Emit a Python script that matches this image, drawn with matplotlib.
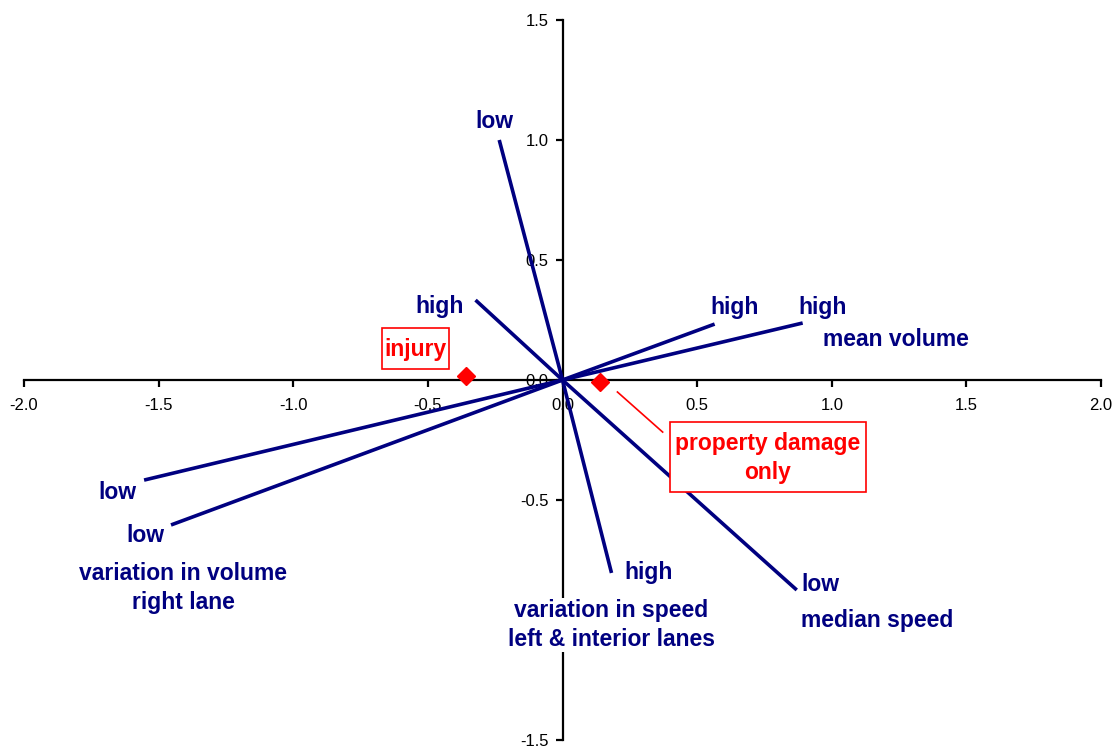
import matplotlib
matplotlib.use("Agg")
import matplotlib.pyplot as plt
from matplotlib.patches import Rectangle

plt.rcParams['font.family'] = ['Liberation Sans', 'DejaVu Sans']

# ---- data ----
variables = ["variation in speed\nleft & interior lanes", "mean volume",
             "variation in volume\nright lane", "median speed"]
low_x = [-0.235, -1.554, -1.454, 0.870]
low_y = [1.000, -0.417, -0.604, -0.875]
high_x = [0.182, 0.892, 0.565, -0.323]
high_y = [-0.804, 0.2375, 0.233, 0.333]

groups = ["injury", "property damage\nonly"]
group_x = [-0.357, 0.138]
group_y = [0.017, -0.008]

xticks = [-2.0, -1.5, -1.0, -0.5, 0.0, 0.5, 1.0, 1.5, 2.0]
yticks = [-1.5, -1.0, -0.5, 0.0, 0.5, 1.0, 1.5]

NAVY = '#000080'
RED = '#ff0000'
FS = 16.5

fig = plt.figure(figsize=(11.15, 7.46), dpi=100)
ax = fig.add_axes([24/1115, 1-740/746, (1101-24)/1115, 720/746])
ax.set_xlim(-2, 2)
ax.set_ylim(-1.5, 1.5)

for s in ['top', 'right']:
    ax.spines[s].set_visible(False)
for s in ['left', 'bottom']:
    ax.spines[s].set_position('zero')
    ax.spines[s].set_linewidth(1.6)
    ax.spines[s].set_zorder(1)

ax.set_xticks(xticks)
ax.set_yticks(yticks)
ax.set_xticklabels([f"{v:.1f}" for v in xticks])
ax.set_yticklabels([f"{v:.1f}" for v in yticks])
ax.tick_params(axis='x', direction='out', length=5, width=1.6, labelsize=12, pad=8)
ax.tick_params(axis='y', direction='out', length=5, width=1.6, labelsize=12, pad=5)

# variable lines
for lx, ly, hx, hy in zip(low_x, low_y, high_x, high_y):
    ax.plot([lx, 0, hx], [ly, 0, hy], color=NAVY, lw=2.6, zorder=3,
            solid_capstyle='butt')

# group points
ax.plot(group_x, group_y, linestyle='none', marker='D', ms=9.5,
        color=RED, zorder=4)

tk = dict(color=NAVY, fontsize=FS, fontweight='bold', ha='center', va='center',
          zorder=6)
bg = dict(facecolor='white', edgecolor='none', pad=1)
# endpoint labels
ax.text(-0.253, 1.075, "low", **tk)
ax.text(0.320, -0.804, "high", **tk)
ax.text(-0.457, 0.308, "high", **tk)
ax.text(0.959, -0.854, "low", **tk)
ax.text(0.639, 0.304, "high", **tk)
ax.text(-1.550, -0.650, "low", **tk)
ax.text(0.967, 0.304, "high", **tk)
ax.text(-1.654, -0.467, "low", **tk)
# variable names
ax.text(1.238, 0.167, variables[1], **tk)
ax.text(-1.409, -0.867, variables[2], linespacing=1.3, **tk)
ax.text(0.182, -1.021, variables[0], linespacing=1.3, bbox=bg, **tk)
ax.text(1.167, -1.0, variables[3], **tk)

# group labels with boxes
rk = dict(color=RED, fontsize=FS, fontweight='bold', ha='center', va='center', zorder=6)
ax.add_patch(Rectangle((-0.672, 0.046), 0.252, 0.171, facecolor='white',
                       edgecolor=RED, lw=1.2, zorder=5))
ax.text(-0.546, 0.127, groups[0], **rk)
ax.add_patch(Rectangle((0.401, -0.467), 0.725, 0.292, facecolor='white',
                       edgecolor=RED, lw=1.2, zorder=5))
ax.text(0.763, -0.325, groups[1], linespacing=1.3, **rk)
ax.plot([0.204, 0.372], [-0.05, -0.217], color=RED, lw=1.2, zorder=3)

fig.savefig("out.png", dpi=100)
